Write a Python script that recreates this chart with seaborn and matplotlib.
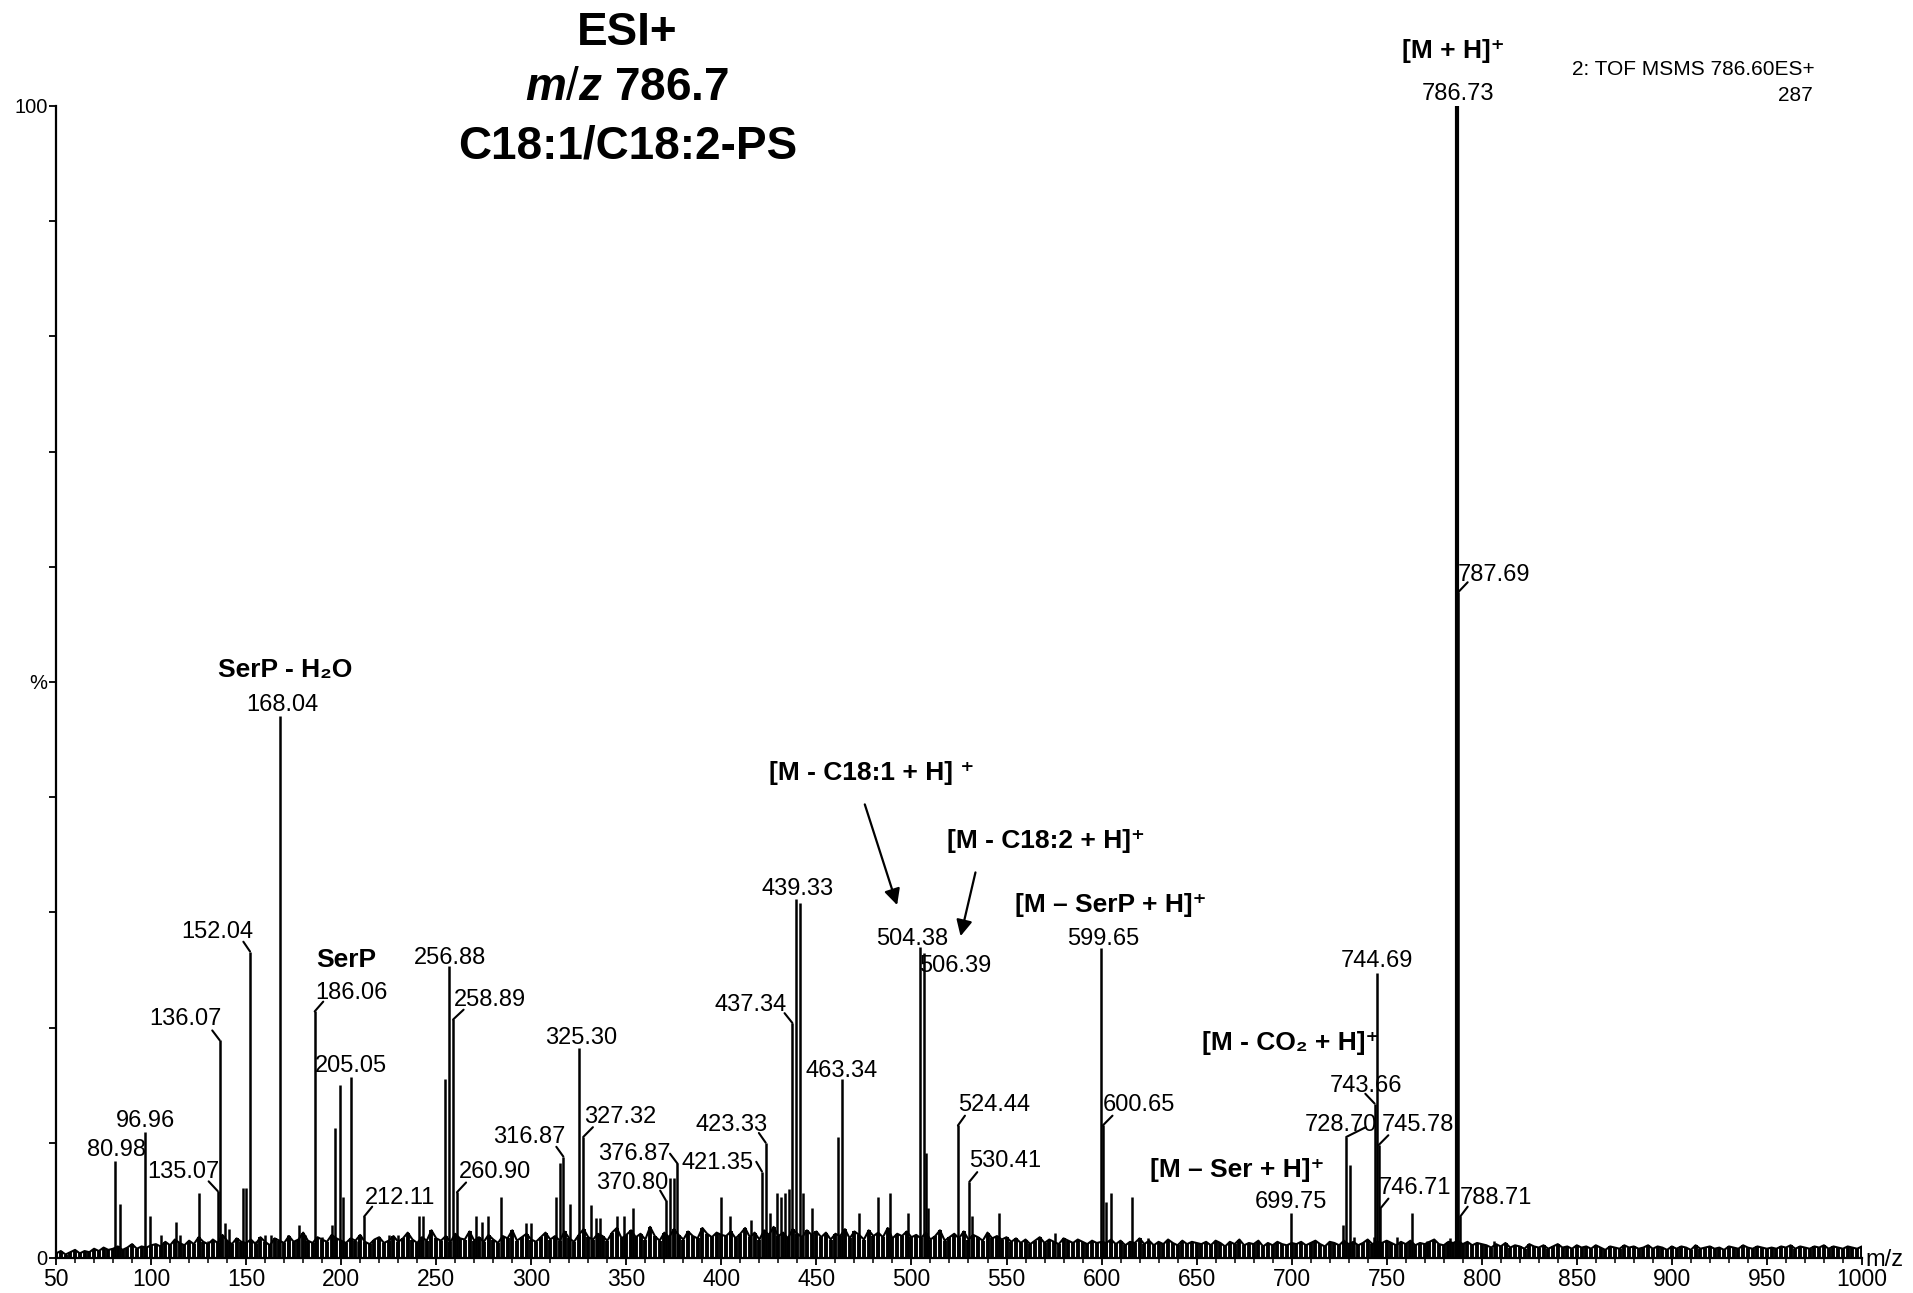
import numpy as np
import matplotlib
matplotlib.use("Agg")
import matplotlib.pyplot as plt
import seaborn as sns

# labelled peaks: m/z and relative intensity (%)
peak_mz = [80.98, 96.96, 135.07, 136.07, 152.04, 168.04, 186.06, 205.05, 212.11,
           256.88, 258.89, 260.90, 316.87, 325.30, 327.32, 370.80, 376.87, 421.35,
           423.33, 437.34, 439.33, 463.34, 504.38, 506.39, 524.44, 530.41, 599.65,
           600.65, 699.75, 728.70, 743.66, 744.69, 745.78, 746.71, 786.73, 787.69, 788.71]
peak_int = [8.4, 10.9, 5.8, 18.9, 26.6, 47.0, 21.4, 15.7, 3.6,
            25.3, 20.7, 5.7, 8.8, 18.2, 10.5, 5.0, 8.2, 7.5,
            10.0, 20.4, 31.2, 15.5, 27.0, 26.5, 11.5, 6.6, 26.9,
            11.5, 3.9, 10.5, 13.4, 24.7, 9.8, 4.3, 100.0, 57.8, 3.6]

# unlabelled peaks
minor_mz = [83.5, 99.2, 105.0, 113.1, 115.0, 125.3, 130.0, 139.0, 141.0, 148.2, 150.0,
            155.0, 160.0, 163.0, 172.0, 177.6, 181.0, 190.0, 195.2, 197.0, 199.2, 201.2,
            209.0, 225.0, 230.0, 241.0, 243.0, 254.8, 270.8, 274.3, 277.0, 284.3, 297.0,
            300.0, 313.0, 315.2, 320.5, 331.5, 334.0, 336.0, 345.0, 349.0, 353.7, 373.0,
            375.0, 399.6, 404.7, 415.6, 425.8, 429.1, 431.3, 433.5, 435.6, 441.5, 442.8,
            447.6, 461.6, 472.5, 482.5, 488.6, 498.4, 507.5, 508.8, 532.0, 545.8, 575.6,
            602.2, 605.0, 616.0, 624.6, 727.2, 730.9, 733.0, 743.2, 755.4, 763.3, 771.2,
            783.5, 806.6]
minor_int = [4.7, 3.6, 2.0, 3.1, 2.0, 5.6, 1.5, 3.0, 2.5, 6.1, 6.1,
             1.5, 2.0, 2.0, 2.0, 2.9, 2.0, 1.8, 2.9, 11.3, 15.0, 5.3,
             1.5, 2.0, 2.0, 3.6, 3.6, 15.5, 3.6, 3.1, 3.6, 5.3, 3.0,
             3.0, 5.3, 8.2, 4.7, 4.6, 3.5, 3.5, 3.6, 3.6, 4.3, 6.9,
             6.9, 5.3, 3.6, 3.3, 3.9, 5.6, 5.3, 5.6, 6.0, 30.8, 5.6,
             4.3, 10.5, 3.9, 5.3, 5.6, 3.9, 9.1, 4.3, 3.6, 3.9, 2.2,
             4.9, 5.6, 5.3, 1.7, 2.9, 8.1, 1.8, 1.8, 1.8, 3.9, 1.5,
             1.7, 1.5]

# baseline noise, every 2.5 m/z from 50 to 1000 (units of 0.1 %)
noise_int = [
    4, 6, 3, 5, 7, 4, 6, 5, 8, 6, 9, 7, 8, 10, 7, 9, 12, 8, 10, 9, 11,
    12, 10, 14, 11, 16, 13, 11, 15, 12, 18, 14, 12, 16, 13, 20, 15, 12, 17, 14, 13,
    16, 12, 18, 14, 11, 17, 15, 13, 19, 14, 16, 22, 15, 13, 18, 16, 14, 20, 17, 15,
    13, 17, 15, 20, 14, 12, 16, 18, 13, 15, 19, 14, 17, 22, 16, 13, 18, 15, 24, 17,
    15, 19, 14, 21, 17, 16, 23, 15, 18, 14, 20, 16, 13, 19, 17, 24, 15, 18, 21, 16,
    14, 18, 22, 16, 19, 15, 23, 17, 14, 20, 25, 18, 16, 21, 19, 15, 22, 26, 17, 20,
    24, 18, 21, 16, 27, 19, 15, 22, 18, 25, 20, 16, 23, 19, 17, 26, 21, 18, 22, 20,
    19, 23, 17, 21, 26, 18, 22, 16, 24, 20, 27, 19, 22, 17, 25, 21, 18, 24, 20, 23,
    18, 22, 16, 21, 19, 25, 17, 23, 20, 16, 24, 19, 22, 18, 26, 17, 21, 19, 23, 18,
    20, 17, 22, 16, 19, 24, 15, 18, 21, 17, 23, 16, 20, 18, 15, 22, 17, 19, 16, 18,
    14, 17, 13, 16, 12, 15, 18, 13, 16, 14, 12, 17, 15, 13, 16, 14, 12, 15, 13, 14,
    13, 16, 12, 15, 11, 14, 13, 17, 12, 15, 11, 14, 12, 16, 13, 11, 15, 12, 14, 13,
    12, 14, 11, 15, 13, 10, 14, 12, 16, 11, 13, 12, 15, 10, 13, 11, 14, 12, 11, 13,
    12, 14, 11, 13, 15, 12, 10, 14, 13, 11, 15, 12, 14, 11, 13, 16, 12, 14, 13, 15,
    13, 11, 14, 12, 15, 11, 13, 12, 14, 16, 12, 11, 14, 13, 15, 12, 14, 11, 13, 12,
    11, 9, 12, 10, 13, 9, 11, 10, 8, 12, 10, 9, 11, 8, 10, 12, 9, 10, 8, 11,
    9, 10, 8, 11, 9, 7, 10, 9, 8, 11, 9, 10, 8, 9, 11, 8, 10, 9, 7, 10,
    8, 10, 9, 7, 11, 8, 9, 10, 8, 9, 7, 10, 9, 8, 11, 9, 8, 10, 9, 8,
    9, 8, 10, 9, 11, 8, 10, 9, 8, 10, 9, 11, 8, 10, 9, 8, 10, 9, 8, 10,
]
noise_mz = np.arange(len(noise_int)) * 2.5 + 50
noise_pct = np.array(noise_int) / 10.0

# label placement: text centre (x, y) and leader offset in m/z (0 = no leader)
label_pos = {
    80.98: (81.6, 9.4, 0), 96.96: (96.8, 11.9, 0), 135.07: (116.8, 7.5, -4.8),
    136.07: (117.9, 20.7, -3.9), 152.04: (134.7, 28.3, -3.5), 168.04: (168.9, 48.0, 0),
    186.06: (205.2, 23.0, 4.5), 205.05: (205.2, 16.7, 0), 212.11: (231.0, 5.2, 4.2),
    256.88: (257.3, 26.0, 0), 258.89: (278.3, 22.4, 5.5), 260.90: (280.9, 7.5, 4.8),
    316.87: (298.8, 10.5, -3.7), 325.30: (326.2, 19.1, 0), 327.32: (346.7, 12.2, 5.1),
    370.80: (353.0, 6.5, -3.0), 376.87: (354.1, 9.0, -3.9), 421.35: (398.2, 8.2, -3.0),
    423.33: (405.6, 11.5, -3.6), 437.34: (415.6, 22.0, -4.1), 439.33: (440.3, 32.0, 0),
    463.34: (463.5, 16.2, 0), 504.38: (500.3, 27.7, 0), 506.39: (522.9, 25.3, 0),
    524.44: (543.4, 13.3, 3.7), 530.41: (549.2, 8.4, 4.2), 599.65: (600.8, 27.7, 0),
    600.65: (619.7, 13.3, 5.1), 699.75: (699.7, 4.9, 0), 728.70: (726.0, 11.5, 10.3),
    743.66: (739.1, 14.9, -4.9), 744.69: (744.9, 25.8, 0), 745.78: (766.5, 11.5, 5.1),
    746.71: (764.9, 6.1, 4.2), 786.73: (787.5, 101.0, 0), 787.69: (806.4, 59.3, 4.9),
    788.71: (807.5, 5.2, 3.9),
}
leader_rise = 0.85

ions = ["SerP - H₂O", "SerP", "[M - C18:1 + H] ⁺", "[M - C18:2 + H]⁺", "[M – SerP + H]⁺",
        "[M - CO₂ + H]⁺", "[M – Ser + H]⁺", "[M + H]⁺"]
ion_pos = [(170.5, 51.0), (202.6, 25.9), (479.2, 42.1), (570.8, 36.2), (605.0, 30.6),
           (699.7, 18.7), (671.3, 7.6), (784.9, 104.8)]

sns.set_style("ticks")
plt.rcParams['font.family'] = ['Liberation Sans', 'DejaVu Sans']
plt.rcParams['mathtext.fontset'] = 'custom'
plt.rcParams['mathtext.it'] = 'Liberation Sans:italic:bold'
plt.rcParams['mathtext.bf'] = 'Liberation Sans:bold'
plt.rcParams['mathtext.rm'] = 'Liberation Sans'
for key in ['text.color', 'axes.labelcolor', 'xtick.color', 'ytick.color', 'axes.edgecolor']:
    plt.rcParams[key] = 'black'

fig = plt.figure(figsize=(19.13, 12.93), dpi=100)
ax = fig.add_axes([0.0293, 0.0271, 0.9440, 0.891])

# spectrum
ax.vlines(noise_mz, 0, noise_pct, color='black', lw=2.8)
sns.lineplot(x=noise_mz, y=noise_pct, ax=ax, color='black', lw=1.5, estimator=None)
ax.vlines(minor_mz, 0, minor_int, color='black', lw=1.8)
widths = [3.0 if v == 100.0 else 1.8 for v in peak_int]
ax.vlines(peak_mz, 0, peak_int, color='black', lw=widths)

for mz, inten in zip(peak_mz, peak_int):
    tx, ty, dx = label_pos[mz]
    ax.text(tx, ty, f"{mz:.2f}", fontsize=17, ha='center', va='center')
    if dx:
        ax.annotate("", xy=(mz, inten), xytext=(mz + dx, inten + leader_rise),
                    annotation_clip=False,
                    arrowprops=dict(arrowstyle='-', shrinkA=0, shrinkB=0,
                                    lw=1.5, color='black'))

for s, (x, y) in zip(ions, ion_pos):
    ax.text(x, y, s, fontsize=19, fontweight='bold', ha='center', va='center')

ax.annotate("", xy=(492.9, 30.4), xytext=(475.0, 39.6), annotation_clip=False,
            arrowprops=dict(arrowstyle='-|>', color='black', lw=1.6, mutation_scale=24))
ax.annotate("", xy=(525.5, 27.7), xytext=(534.0, 33.7), annotation_clip=False,
            arrowprops=dict(arrowstyle='-|>', color='black', lw=1.6, mutation_scale=24))

ax.set_xlim(50, 1000)
ax.set_ylim(0, 100)
ax.set_xticks(range(50, 1001, 50))
ax.set_xticks(range(50, 1001, 10), minor=True)
ax.set_yticks(range(0, 101, 10))
ax.set_yticklabels(['0', '', '', '', '', '%', '', '', '', '', '100'])
ax.tick_params(axis='x', which='major', length=5, width=1.3, labelsize=16.5, pad=2)
ax.tick_params(axis='x', which='minor', length=3.5, width=1.1)
ax.tick_params(axis='y', length=5, width=1.3, labelsize=14.5, pad=1)
ax.set_xlabel('')
ax.set_ylabel('')
sns.despine(ax=ax)
for sp in ['left', 'bottom']:
    ax.spines[sp].set_linewidth(1.6)

fig.text(0.975, 0.0255, "m/z", fontsize=17, ha='left', va='center')

fig.text(0.328, 0.9745, "ESI+", fontsize=33, fontweight='bold', ha='center', va='center')
fig.text(0.328, 0.932, r"$\mathit{m/z}$ 786.7", fontsize=33, fontweight='bold',
         ha='center', va='center')
fig.text(0.328, 0.887, "C18:1/C18:2-PS", fontsize=33, fontweight='bold',
         ha='center', va='center')

fig.text(0.9488, 0.946, "2: TOF MSMS 786.60ES+", fontsize=15, ha='right', va='center')
fig.text(0.9478, 0.9265, "287", fontsize=15, ha='right', va='center')

fig.savefig("out.png", dpi=100)
